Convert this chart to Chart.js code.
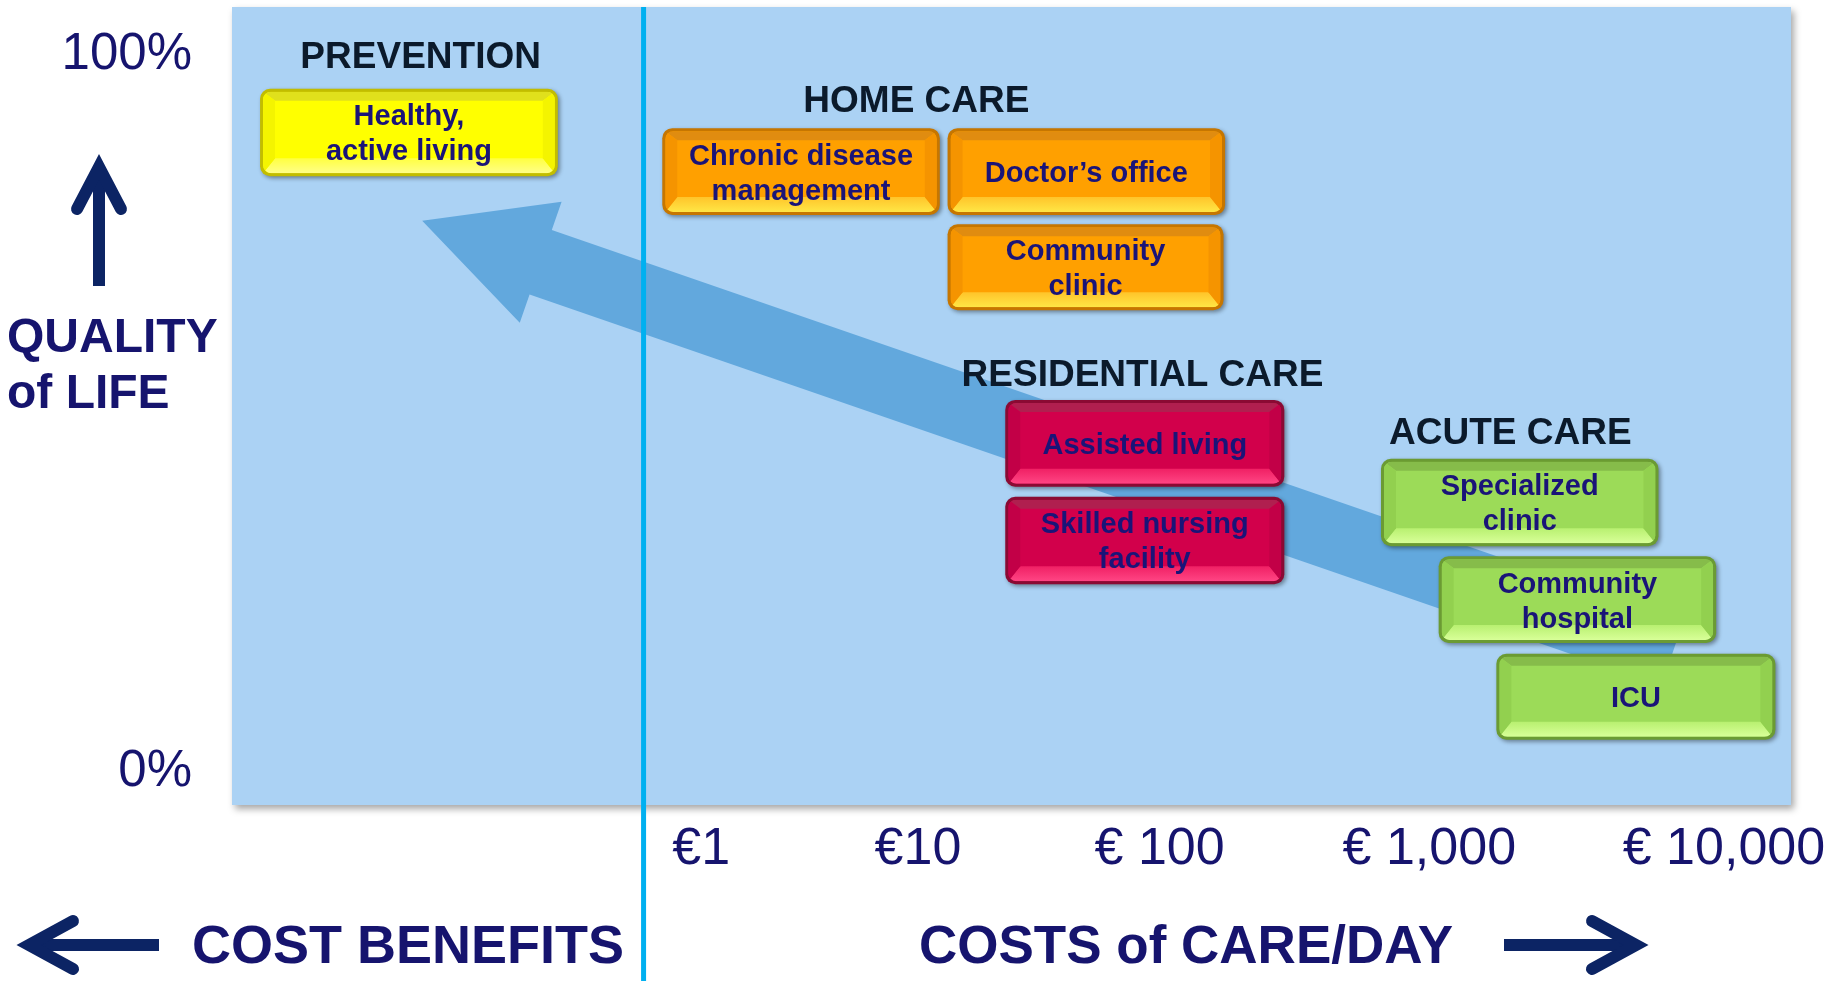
<!DOCTYPE html>
<html>
<head>
<meta charset="utf-8">
<script src="https://cdn.jsdelivr.net/npm/chart.js@4.4.1/dist/chart.umd.min.js"></script>
<style>
  html, body { margin: 0; padding: 0; background: #fff; }
  #wrap { width: 1845px; height: 981px; position: relative; }
</style>
</head>
<body>
<div id="wrap"><canvas id="careChart"></canvas></div>
<script>
// cost of care axis (position along axis 0-100) and its labels
const costTicks = [30.1, 44.0, 59.5, 76.8, 95.7];
const costLabels = ['€1', '€10', '€ 100', '€ 1,000', '€ 10,000'];

// quality of life axis
const qualityTicks = [0, 100];
const qualityLabels = ['0%', '100%'];

// care settings
const boxLabels = [
  ['Healthy,', 'active living'],
  ['Chronic disease', 'management'],
  ['Doctor’s office'],
  ['Community', 'clinic'],
  ['Assisted living'],
  ['Skilled nursing', 'facility'],
  ['Specialized', 'clinic'],
  ['Community', 'hospital'],
  ['ICU']
];
const boxGroup = [0, 1, 1, 1, 2, 2, 3, 3, 3];
const boxCostFrom = [1.8, 27.6, 45.9, 45.9, 49.6, 49.6, 73.7, 77.4, 81.1];
const boxCostTo = [20.9, 45.4, 63.7, 63.6, 67.5, 67.5, 91.5, 95.2, 99.0];
const boxQualityTop = [94.6, 89.1, 89.1, 75.7, 51.2, 37.7, 43.0, 29.4, 15.8];
const boxQualityBottom = [82.4, 77.0, 77.0, 63.7, 39.1, 25.5, 30.8, 17.3, 3.8];

// group headings
const groupNames = ['PREVENTION', 'HOME CARE', 'RESIDENTIAL CARE', 'ACUTE CARE'];
const groupCost = [12.1, 43.9, 58.4, 82.0];
const groupQuality = [99.3, 93.2, 55.0, 46.9];

// trend arrow: tail, head base, tip
const trendCost = [92.4, 19.8, 12.2];
const trendQuality = [15.9, 70.4, 76.2];

// divider between cost benefits and costs of care
const dividerCost = 26.4;

const palettes = [
  { border: '#c2bd00', base: '#ffff00', top: '#e0e01c', side: '#f4f400', bottomA: '#ffff40', bottomB: '#ffff88' },
  { border: '#c67600', base: '#ffa000', top: '#e08c10', side: '#f59400', bottomA: '#ffc42a', bottomB: '#ffe645' },
  { border: '#8a0a33', base: '#d2004b', top: '#b01f4f', side: '#c20047', bottomA: '#f02064', bottomB: '#ff4584' },
  { border: '#6b9b33', base: '#9cdb58', top: '#86bc4a', side: '#92d04f', bottomA: '#b8f070', bottomB: '#d8ff98' }
];

const navy = '#16146e';
const font = '"Liberation Sans", Arial, sans-serif';

function roundRect(ctx, x, y, w, h, r) {
  ctx.beginPath();
  ctx.moveTo(x + r, y);
  ctx.arcTo(x + w, y, x + w, y + h, r);
  ctx.arcTo(x + w, y + h, x, y + h, r);
  ctx.arcTo(x, y + h, x, y, r);
  ctx.arcTo(x, y, x + w, y, r);
  ctx.closePath();
}

function poly(ctx, pts, fill) {
  ctx.beginPath();
  ctx.moveTo(pts[0][0], pts[0][1]);
  for (let i = 1; i < pts.length; i++) ctx.lineTo(pts[i][0], pts[i][1]);
  ctx.closePath();
  ctx.fillStyle = fill;
  ctx.fill();
}

function drawBox(ctx, x0, y0, x1, y1, pal) {
  ctx.save();
  ctx.shadowColor = 'rgba(0,0,0,0.4)';
  ctx.shadowBlur = 4;
  ctx.shadowOffsetX = 2;
  ctx.shadowOffsetY = 2;
  roundRect(ctx, x0, y0, x1 - x0, y1 - y0, 10);
  ctx.fillStyle = pal.border;
  ctx.fill();
  ctx.restore();

  const ix0 = x0 + 3, iy0 = y0 + 3, ix1 = x1 - 3, iy1 = y1 - 3;
  const t = 9, b = 15, s = 12;
  ctx.save();
  roundRect(ctx, ix0, iy0, ix1 - ix0, iy1 - iy0, 8);
  ctx.clip();
  ctx.fillStyle = pal.base;
  ctx.fillRect(ix0, iy0, ix1 - ix0, iy1 - iy0);
  poly(ctx, [[ix0, iy0], [ix1, iy0], [ix1 - s, iy0 + t], [ix0 + s, iy0 + t]], pal.top);
  const g = ctx.createLinearGradient(0, iy1 - b, 0, iy1);
  g.addColorStop(0, pal.bottomA);
  g.addColorStop(1, pal.bottomB);
  poly(ctx, [[ix0, iy1], [ix1, iy1], [ix1 - s, iy1 - b], [ix0 + s, iy1 - b]], g);
  poly(ctx, [[ix0, iy0], [ix0 + s, iy0 + t], [ix0 + s, iy1 - b], [ix0, iy1]], pal.side);
  poly(ctx, [[ix1, iy0], [ix1 - s, iy0 + t], [ix1 - s, iy1 - b], [ix1, iy1]], pal.side);
  ctx.restore();
}

function chevronArrow(ctx, from, to, headLen, headHalf) {
  const dx = to[0] - from[0], dy = to[1] - from[1];
  const len = Math.hypot(dx, dy), ux = dx / len, uy = dy / len;
  ctx.save();
  ctx.strokeStyle = '#0c2464';
  ctx.lineWidth = 12;
  ctx.lineCap = 'butt';
  ctx.beginPath();
  ctx.moveTo(from[0], from[1]);
  ctx.lineTo(to[0] - ux * 4, to[1] - uy * 4);
  ctx.stroke();
  ctx.lineCap = 'round';
  ctx.lineJoin = 'miter';
  ctx.beginPath();
  ctx.moveTo(to[0] - ux * headLen - uy * headHalf, to[1] - uy * headLen + ux * headHalf);
  ctx.lineTo(to[0], to[1]);
  ctx.lineTo(to[0] - ux * headLen + uy * headHalf, to[1] - uy * headLen - ux * headHalf);
  ctx.stroke();
  ctx.restore();
}

const careDiagram = {
  id: 'careDiagram',
  beforeDatasetsDraw(chart) {
    const { ctx, chartArea: a, scales: { x, y } } = chart;

    // plot background with soft shadow
    ctx.save();
    ctx.shadowColor = 'rgba(0,0,0,0.35)';
    ctx.shadowBlur = 7;
    ctx.shadowOffsetX = 3;
    ctx.shadowOffsetY = 4;
    ctx.fillStyle = '#abd2f4';
    ctx.fillRect(a.left, a.top, a.right - a.left, a.bottom - a.top);
    ctx.restore();

    // trend arrow
    const P = trendCost.map((c, i) => [x.getPixelForValue(c), y.getPixelForValue(trendQuality[i])]);
    const dx = P[2][0] - P[0][0], dy = P[2][1] - P[0][1];
    const len = Math.hypot(dx, dy);
    const nx = -dy / len, ny = dx / len;
    const sw = 34, hw = 64;
    poly(ctx, [
      [P[0][0] + nx * sw, P[0][1] + ny * sw],
      [P[1][0] + nx * sw, P[1][1] + ny * sw],
      [P[1][0] + nx * hw, P[1][1] + ny * hw],
      P[2],
      [P[1][0] - nx * hw, P[1][1] - ny * hw],
      [P[1][0] - nx * sw, P[1][1] - ny * sw],
      [P[0][0] - nx * sw, P[0][1] - ny * sw]
    ], '#62a8dd');

    // divider line
    const dxp = x.getPixelForValue(dividerCost);
    ctx.save();
    ctx.strokeStyle = '#00b0f0';
    ctx.lineWidth = 5;
    ctx.beginPath();
    ctx.moveTo(dxp, a.top);
    ctx.lineTo(dxp, chart.height);
    ctx.stroke();
    ctx.restore();

    // care setting boxes
    ctx.save();
    ctx.textAlign = 'center';
    ctx.textBaseline = 'alphabetic';
    boxLabels.forEach((lines, i) => {
      const x0 = x.getPixelForValue(boxCostFrom[i]);
      const x1 = x.getPixelForValue(boxCostTo[i]);
      const y0 = y.getPixelForValue(boxQualityTop[i]);
      const y1 = y.getPixelForValue(boxQualityBottom[i]);
      drawBox(ctx, x0, y0, x1, y1, palettes[boxGroup[i]]);
      const cx = (x0 + x1) / 2, cy = (y0 + y1) / 2;
      ctx.fillStyle = '#1a1478';
      ctx.font = 'bold 29px ' + font;
      lines.forEach((ln, j) => {
        ctx.fillText(ln, cx, cy + (j - (lines.length - 1) / 2) * 35 + 10.5);
      });
    });

    // group headings
    ctx.fillStyle = '#0b1a2b';
    ctx.font = 'bold 37px ' + font;
    groupNames.forEach((g, i) => {
      ctx.fillText(g, x.getPixelForValue(groupCost[i]), y.getPixelForValue(groupQuality[i]) + 13);
    });
    ctx.restore();
  },
  afterDraw(chart) {
    const { ctx } = chart;
    ctx.save();
    ctx.fillStyle = navy;
    ctx.textBaseline = 'alphabetic';
    ctx.textAlign = 'left';
    ctx.font = 'bold 48px ' + font;
    ctx.fillText('QUALITY', 7, 352);
    ctx.fillText('of LIFE', 7, 408);
    ctx.textAlign = 'center';
    ctx.font = 'bold 54px ' + font;
    ctx.fillText('COST BENEFITS', 408, 963);
    ctx.font = 'bold 53px ' + font;
    ctx.fillText('COSTS of CARE/DAY', 1186, 963);
    ctx.restore();

    chevronArrow(ctx, [99, 286], [99, 167], 42, 22);
    chevronArrow(ctx, [159, 945], [29, 945], 44, 24);
    chevronArrow(ctx, [1504, 945], [1636, 945], 44, 24);
  }
};

new Chart(document.getElementById('careChart'), {
  type: 'scatter',
  data: { datasets: [] },
  options: {
    responsive: true,
    maintainAspectRatio: false,
    animation: false,
    layout: { padding: { top: 7, right: 54, left: 0, bottom: 0 } },
    plugins: { legend: { display: false }, tooltip: { enabled: false } },
    scales: {
      x: {
        type: 'linear',
        min: 0,
        max: 100,
        grid: { display: false, drawTicks: false },
        border: { display: false },
        afterFit(scale) {
          scale.height = 176;
          scale.paddingLeft = 0;
          scale.paddingRight = 0;
        },
        afterBuildTicks(scale) { scale.ticks = costTicks.map(v => ({ value: v })); },
        ticks: {
          autoSkip: false,
          maxRotation: 0,
          minRotation: 0,
          padding: 13,
          color: navy,
          font: { family: font, size: 52 },
          callback: (v, i) => costLabels[i]
        }
      },
      y: {
        type: 'linear',
        min: -5.3,
        max: 106,
        grid: { display: false, drawTicks: false },
        border: { display: false },
        afterFit(scale) {
          scale.width = 232;
          scale.paddingTop = 0;
          scale.paddingBottom = 0;
        },
        afterBuildTicks(scale) { scale.ticks = qualityTicks.map(v => ({ value: v })); },
        ticks: {
          padding: 40,
          labelOffset: 5,
          color: navy,
          font: { family: font, size: 51 },
          callback: (v, i) => qualityLabels[i]
        }
      }
    }
  },
  plugins: [careDiagram]
});
</script>
</body>
</html>
